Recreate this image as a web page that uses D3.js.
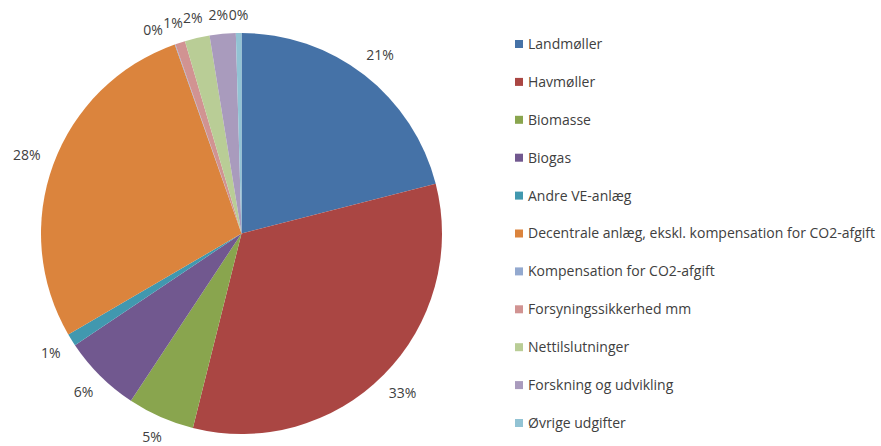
<!DOCTYPE html>
<head><meta charset="utf-8"/></head>
<style>
body { margin: 0; background: white; }
svg { font-family: "Open Sans", Lato, sans-serif; }
.legend text, .lbl { fill: #404040; font-size: 14px; }
</style>
<script src="https://d3js.org/d3.v7.min.js"></script>
<body>
<div id="chart"></div>
</body>
<script>

// shares of the total (percent)
var categories = ["Landmøller", "Havmøller", "Biomasse", "Biogas", "Andre VE-anlæg",
    "Decentrale anlæg, ekskl. kompensation for CO2-afgift", "Kompensation for CO2-afgift",
    "Forsyningssikkerhed mm", "Nettilslutninger", "Forskning og udvikling", "Øvrige udgifter"];
var shares = [21.0, 32.9, 5.4, 6.3, 1.0, 28.0, 0.05, 0.8, 2.0, 2.1, 0.45];
var colors = ["#4572A7", "#AA4643", "#89A54E", "#71588F", "#4198AF", "#DB843D",
    "#93A9CF", "#D19392", "#B9CD96", "#A99BBD", "#92C3D4"];

var width = 881, height = 446;
var cx = 241.5, cy = 233.5, r = 200.5;

var svg = d3.select("#chart").append("svg")
    .attr("width", width)
    .attr("height", height);

var color = d3.scaleOrdinal().domain(categories).range(colors);

var pie = d3.pie().sort(null).value(function(d) { return d.v; });
var data = categories.map(function(c, i) { return {name: c, v: shares[i]}; });
var arcs = pie(data);
var total = d3.sum(shares);

var arc = d3.arc().innerRadius(0).outerRadius(r);

var g = svg.append("g").attr("transform", "translate(" + cx + "," + cy + ")");

g.selectAll(".slice")
    .data(arcs)
    .enter().append("path")
    .attr("class", "slice")
    .attr("d", arc)
    .style("fill", function(d) { return color(d.data.name); });

// labels outside the pie, pushed out by the text box size
var gap = 14;
function place(l) {
    var ux = Math.sin(l.a), uy = -Math.cos(l.a);
    var dist = r + gap + Math.abs(ux) * l.w / 2 + Math.abs(uy) * 4;
    l.x = ux * dist; l.y = uy * dist;
}
function overlaps(p, q) {
    return Math.abs(p.x - q.x) < (p.w + q.w) / 2 && Math.abs(p.y - q.y) < (p.h + q.h) / 2;
}

var labels = g.selectAll(".lbl")
    .data(arcs)
    .enter().append("text")
    .attr("class", "lbl")
    .attr("text-anchor", "middle")
    .attr("dy", "0.35em")
    .text(function(d) { return Math.round(d.data.v / total * 100) + "%"; });

var boxes = [];
labels.each(function(d) {
    var bb = this.getBBox();
    var l = {a: (d.startAngle + d.endAngle) / 2, w: bb.width, h: bb.height - 4};
    place(l);
    boxes.push(l);
});
// crowded small labels: slide each one back along the circle until it clears its neighbour
for (var i = boxes.length - 2; i >= 0; i--) {
    var n = 0;
    while (overlaps(boxes[i], boxes[i + 1]) && n < 200) {
        boxes[i].a -= 0.004;
        place(boxes[i]);
        n++;
    }
}
labels.attr("x", function(d, i) { return boxes[i].x; })
    .attr("y", function(d, i) { return boxes[i].y; });

// legend
var ly = d3.scalePoint().domain(categories).range([44, 423]);

var legend = svg.append("g").attr("class", "legend");
var item = legend.selectAll("g")
    .data(categories)
    .enter().append("g")
    .attr("transform", function(d) { return "translate(515," + ly(d) + ")"; });

item.append("rect")
    .attr("x", 0).attr("y", -4)
    .attr("width", 8).attr("height", 8)
    .style("fill", function(d) { return color(d); });

item.append("text")
    .attr("x", 13)
    .attr("dy", "0.35em")
    .text(function(d) { return d; });

</script>
